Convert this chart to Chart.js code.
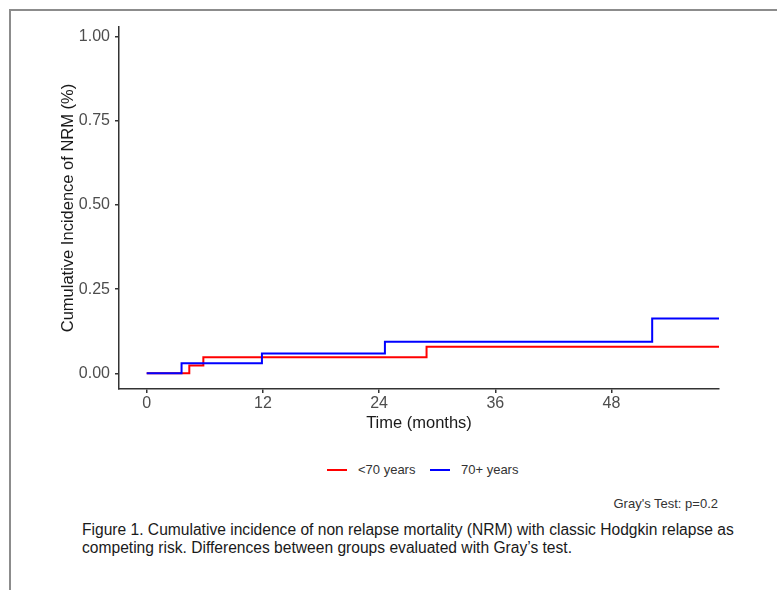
<!DOCTYPE html>
<html>
<head>
<meta charset="utf-8">
<script src="https://cdn.jsdelivr.net/npm/chart.js@4"></script>
<style>
  html, body { margin: 0; padding: 0; background: #fff; }
  body { width: 777px; height: 590px; position: relative; overflow: hidden;
    font-family: 'Liberation Sans', Arial, sans-serif; }
  .frame { position: absolute; left: 9px; top: 9px; width: 780px; height: 579px;
    border-left: 2px solid #8c8c8c; border-top: 2px solid #8c8c8c; border-bottom: 1px solid #e2e2e2; }
  #chart { position: absolute; left: 0; top: 0; }
  .key { position: absolute; height: 2px; top: 469px; width: 20px; }
  .keytxt { position: absolute; top: 462px; font-size: 13px; line-height: 16px; color: #333; }
  .gray { position: absolute; right: 59px; top: 496px; font-size: 13px; line-height: 16px; color: #333; }
  .caption { position: absolute; left: 82px; top: 521px; font-size: 15.6px; line-height: 18px; color: #1a1a1a; white-space: nowrap; }
</style>
</head>
<body>
<div class="frame"></div>
<canvas id="chart" width="777" height="440"></canvas>
<div class="key" style="left:327px;background:#ff0000"></div>
<div class="keytxt" style="left:358px">&lt;70 years</div>
<div class="key" style="left:430px;background:#0000ff"></div>
<div class="keytxt" style="left:461px">70+ years</div>
<div class="gray">Gray's Test: p=0.2</div>
<div class="caption">Figure 1. Cumulative incidence of non relapse mortality (NRM) with classic Hodgkin relapse as<br>competing risk. Differences between groups evaluated with Gray’s test.</div>
<script>
'use strict';

/// data (months, cumulative incidence)
const youngTimes = [0, 4.4, 5.85, 28.9, 59.1];
const youngCif = [0, 0.023, 0.048, 0.079, 0.079];
const oldTimes = [0, 3.6, 11.9, 24.6, 52.2, 59.1];
const oldCif = [0, 0.03, 0.059, 0.094, 0.163, 0.163];

const xTicks = [0, 12, 24, 36, 48];
const yTicks = [0, 0.25, 0.5, 0.75, 1];

const toPoints = (xs, ys) => xs.map((x, i) => ({ x: x, y: ys[i] }));

const fontFamily = "'Liberation Sans', Arial, sans-serif";
const axisColor = '#333';

const chart = new Chart(document.getElementById('chart'), {
  type: 'line',
  data: {
    datasets: [
      {
        label: '<70 years',
        data: toPoints(youngTimes, youngCif),
        borderColor: '#ff0000',
        borderWidth: 2,
        stepped: 'before',
        pointRadius: 0,
        fill: false,
        order: 2,
      },
      {
        label: '70+ years',
        data: toPoints(oldTimes, oldCif),
        borderColor: '#0000ff',
        borderWidth: 2,
        stepped: 'before',
        pointRadius: 0,
        fill: false,
        order: 1,
      },
    ],
  },
  options: {
    responsive: false,
    animation: false,
    devicePixelRatio: 1,
    layout: { padding: { left: 59, top: 27, right: 58, bottom: 7 } },
    plugins: { legend: { display: false }, tooltip: { enabled: false } },
    scales: {
      x: {
        type: 'linear',
        min: -2.86,
        max: 59.1,
        afterBuildTicks: (s) => { s.ticks = xTicks.map((v) => ({ value: v })); },
        afterFit: (s) => { s.height = 433 - 389; },
        ticks: { color: '#4d4d4d', font: { family: fontFamily, size: 16 }, padding: 1, maxRotation: 0 },
        grid: { drawOnChartArea: false, drawTicks: true, tickLength: 4, color: axisColor, lineWidth: 1.5 },
        border: { display: true, color: axisColor, width: 1.5 },
        title: { display: true, text: 'Time (months)', color: '#1a1a1a',
          font: { family: fontFamily, size: 16.5 }, padding: 0 },
      },
      y: {
        type: 'linear',
        min: -0.0466,
        max: 1.0288,
        afterBuildTicks: (s) => { s.ticks = yTicks.map((v) => ({ value: v })); },
        afterFit: (s) => { s.width = 119 - 59; },
        ticks: { color: '#4d4d4d', font: { family: fontFamily, size: 16 }, padding: 5,
          callback: (v) => Number(v).toFixed(2) },
        grid: { drawOnChartArea: false, drawTicks: true, tickLength: 4, color: axisColor, lineWidth: 1.5 },
        border: { display: true, color: axisColor, width: 1.5 },
        title: { display: true, text: 'Cumulative Incidence of NRM (%)', color: '#1a1a1a',
          font: { family: fontFamily, size: 16.5 }, padding: 0 },
      },
    },
  },
});
</script>
</body>
</html>
